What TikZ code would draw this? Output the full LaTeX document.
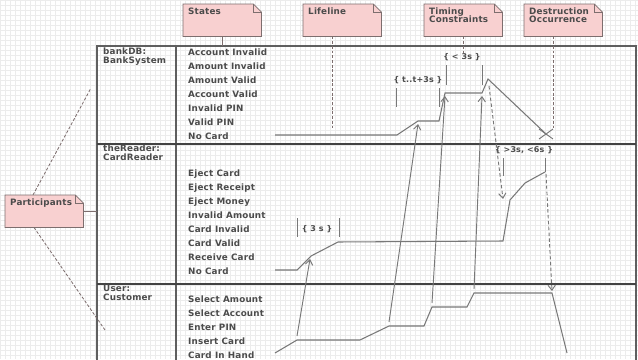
\documentclass[tikz,border=0pt]{standalone}
\usepackage{fontspec}
\newfontfamily\umlfont[LetterSpace=2]{DejaVu Sans}
\usetikzlibrary{positioning, arrows.meta, shapes.misc, backgrounds}

\definecolor{notefill}{RGB}{248,208,208}
\definecolor{noteline}{RGB}{125,110,110}
\definecolor{inkgray}{RGB}{75,75,75}
\definecolor{linegray}{RGB}{120,120,120}
\definecolor{framegray}{RGB}{95,95,95}
\definecolor{gridgray}{RGB}{236,236,236}

\newcommand{\statefont}{\umlfont\bfseries\fontsize{7.5}{7.4}\selectfont}
\newcommand{\constrfont}{\umlfont\bfseries\fontsize{6.8}{7}\selectfont}
\newcommand{\notepar}[1]{\parbox[c][0.76cm][t]{2.04cm}{\raggedright #1}}
\newcommand{\dogear}{0.24cm}

\begin{document}
\begin{tikzpicture}[
    x=0.03cm, y=-0.03cm,
    >={Straight Barb[length=1.5mm, width=2.2mm]},
    note/.style={anchor=north west, inner xsep=0.15cm, inner ysep=0.1cm, font=\statefont, text=inkgray},
    notebody/.style={fill=notefill, draw=noteline, line width=0.6pt},
    notefold/.style={draw=noteline, line width=0.6pt},
    notelink/.style={draw=noteline, line width=0.7pt, dash pattern=on 2.5pt off 1.5pt},
    statetext/.style={anchor=base west, inner sep=0, font=\statefont, text=inkgray},
    lanename/.style={anchor=north west, inner sep=0, align=left, font=\statefont, text=inkgray},
    frameline/.style={draw=framegray, line width=0.9pt},
    laneline/.style={draw=framegray!70!black, line width=1.1pt},
    lifeline/.style={draw=linegray, line width=0.9pt},
    message/.style={draw=linegray, line width=0.8pt, ->},
    dashmsg/.style={message, dash pattern=on 3pt off 2pt},
    constraint/.style={inner sep=0, font=\constrfont, text=inkgray},
    tickmark/.style={draw=linegray, line width=0.8pt},
    destroy/.style={draw=linegray, cross out, line width=0.8pt, minimum width=0.39cm, minimum height=0.27cm, inner sep=0},
    gridlines/.style={draw=gridgray, line width=0.25pt}
]

\useasboundingbox (0,0) rectangle (638,359);
\clip (0,0) rectangle (638,359);

% background grid
\begin{scope}[on background layer]
\fill[white] (0,0) rectangle (638,359);
\draw[gridlines, step=0.15cm] (0,0) grid (638,359);
\end{scope}

% -------------------------
% Frame and lanes
% -------------------------
\coordinate (frameTL) at (97,46);
\draw[frameline] (97,365) -- (frameTL) -- (636,46) -- (636,365);
\draw[frameline] (176,46) -- (176,365);
\draw[laneline] (97,144) -- (636,144);
\draw[laneline] (97,284) -- (636,284);

\node[lanename] (bankLane) at (103,48) {bankDB:\\BankSystem};
\node[lanename] (readerLane) at (103,145) {theReader:\\CardReader};
\node[lanename] (userLane) at (103,285) {User:\\Customer};

% -------------------------
% States
% -------------------------

% 1. bankDB
\node[statetext] (bAcctInv) at (188,55) {Account Invalid};
\node[statetext] (bAmtInv) at (188,69) {Amount Invalid};
\node[statetext] (bAmtVal) at (188,83) {Amount Valid};
\node[statetext] (bAcctVal) at (188,97) {Account Valid};
\node[statetext] (bPinInv) at (188,111) {Invalid PIN};
\node[statetext] (bPinVal) at (188,125) {Valid PIN};
\node[statetext] (bNoCard) at (188,139) {No Card};

% 2. theReader
\node[statetext] (rEjCard) at (188,176) {Eject Card};
\node[statetext] (rEjRcpt) at (188,190) {Eject Receipt};
\node[statetext] (rEjMoney) at (188,204) {Eject Money};
\node[statetext] (rAmtInv) at (188,218) {Invalid Amount};
\node[statetext] (rCardInv) at (188,232) {Card Invalid};
\node[statetext] (rCardVal) at (188,246) {Card Valid};
\node[statetext] (rRecv) at (188,260) {Receive Card};
\node[statetext] (rNoCard) at (188,274) {No Card};

% 3. User
\node[statetext] (uSelAmt) at (188,302) {Select Amount};
\node[statetext] (uSelAcct) at (188,316) {Select Account};
\node[statetext] (uPin) at (188,330) {Enter PIN};
\node[statetext] (uInsert) at (188,344) {Insert Card};
\node[statetext] (uInHand) at (188,358) {Card In Hand};

% -------------------------
% Lifelines
% -------------------------
\node[destroy] (cross) at (546,134) {};

\draw[lifeline] (275,135) -- (397,135) -- (418,121) -- (439,121) -- (445,93)
    -- (482,93) -- (488,79) -- (cross.center);
\draw[lifeline] (275,270) -- (297,270) -- (311,256) -- (338,242) -- (503,241)
    -- (510,200) -- (525,183) -- (545,172);
\draw[lifeline] (275,353) -- (297,340) -- (360,340) -- (389,326) -- (424,326)
    -- (432,307) -- (467,307) -- (474,293) -- (552,293) -- (567,353);

% -------------------------
% Messages
% -------------------------
\coordinate (insertSend) at (297,336);
\coordinate (insertRecv) at (310,259);
\coordinate (pinSend) at (389,322);
\coordinate (pinRecv) at (418,124);
\coordinate (acctSend) at (432,303);
\coordinate (acctRecv) at (445,96);
\coordinate (amtSend) at (474,289);
\coordinate (amtRecv) at (482,96);
\coordinate (bankReply) at (489,86);
\coordinate (ejectRecv) at (503,199);
\coordinate (ejectSend) at (546,174);
\coordinate (takeRecv) at (552,291);

\draw[message] (insertSend) -- (insertRecv);
\draw[message] (pinSend) -- (pinRecv);
\draw[message] (acctSend) -- (acctRecv);
\draw[message] (amtSend) -- (amtRecv);
\draw[dashmsg] (bankReply) -- (ejectRecv);
\draw[dashmsg] (ejectSend) -- (takeRecv);

% -------------------------
% Timing constraints
% -------------------------
\node[constraint] (cLess) at (462,57) {\{ < 3s \}};
\draw[tickmark] (446,65) -- (446,85);
\draw[tickmark] (482,65) -- (482,85);

\node[constraint] (cWindow) at (418,80) {\{ t..t+3s \}};
\draw[tickmark] (396,88) -- (396,107);
\draw[tickmark] (439,88) -- (439,107);

\node[constraint] (cThree) at (317,229) {\{ 3 s \}};
\draw[tickmark] (297,218) -- (297,237);
\draw[tickmark] (339,218) -- (339,237);

\node[constraint] (cRange) at (524,150) {\{ >3s, <6s \}};
\draw[tickmark] (503,158) -- (503,176);
\draw[tickmark] (545,158) -- (545,172);

% -------------------------
% Notes
% -------------------------
\node[note] (statesnote) at (183,4) {\notepar{States}};
\node[note] (lifenote) at (303,4) {\notepar{Lifeline}};
\node[note] (timingnote) at (424,4) {\notepar{Timing\\Constraints}};
\node[note] (destrnote) at (524,4) {\notepar{Destruction\\Occurrence}};
\node[note] (partsnote) at (5,195) {\notepar{Participants}};

\begin{scope}[on background layer]
\foreach \n in {statesnote, lifenote, timingnote, destrnote, partsnote}
    \draw[notebody] (\n.south west) -- (\n.north west) -- ([xshift=-\dogear]\n.north east)
        -- ([yshift=-\dogear]\n.north east) -- (\n.south east) -- cycle;
\end{scope}
\foreach \n in {statesnote, lifenote, timingnote, destrnote, partsnote}
    \draw[notefold] ([xshift=-\dogear]\n.north east) |- ([yshift=-\dogear]\n.north east);

% note links
\coordinate (lifeEnd) at (332,130);
\coordinate (bankPoint) at (91,88);
\coordinate (userPoint) at (105,330);

\draw[notefold] (statesnote.south) -- (statesnote.south |- frameTL);
\draw[notelink] (lifenote.south -| lifeEnd) -- (lifeEnd);
\draw[notelink] (timingnote.south) -- (timingnote.south |- cLess.north);
\draw[notelink] (destrnote.south -| cross.north east) -- (cross.north east);
\draw[notefold] (partsnote.east) -- (partsnote.east -| frameTL);
\draw[notelink] ([xshift=0.84cm]partsnote.north west) -- (bankPoint);
\draw[notelink] ([xshift=0.87cm]partsnote.south west) -- (userPoint);

\end{tikzpicture}
\end{document}
